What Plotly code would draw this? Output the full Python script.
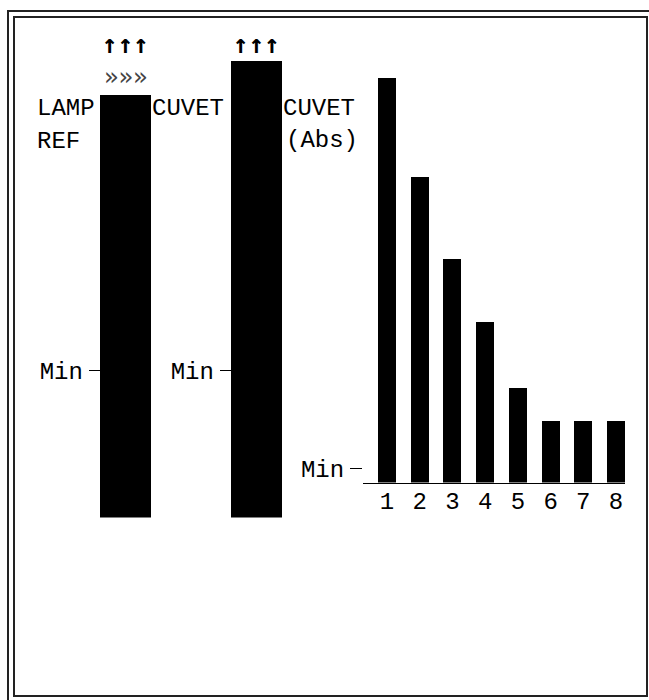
import plotly.graph_objects as go

# left panel: lamp reference and cuvet signal (percent of full scale)
ref_names = ["LAMP REF", "CUVET"]
ref_values = [92.6, 100.0]
ref_min = 32.1

# right panel: cuvet absorbance per channel (percent of channel 1)
channels = [1, 2, 3, 4, 5, 6, 7, 8]
abs_values = [100.0, 75.6, 55.4, 39.7, 23.4, 15.3, 15.3, 15.3]
abs_min = 3.4

W, H = 649, 700
FONT = "Liberation Mono, Courier New, monospace"
SYMFONT = "DejaVu Sans Mono, monospace"


def px(x):
    return x / W


def py(y):
    return 1 - y / H


fig = go.Figure()

fig.add_trace(go.Bar(x=[ref_names[0]], y=[ref_values[0]], width=0.382,
                     marker=dict(color="black", line=dict(width=0)),
                     xaxis="x", yaxis="y"))
fig.add_trace(go.Bar(x=[ref_names[1]], y=[ref_values[1]], width=0.382,
                     marker=dict(color="black", line=dict(width=0)),
                     xaxis="x", yaxis="y2"))
fig.add_trace(go.Bar(x=channels, y=abs_values, width=0.55,
                     marker=dict(color="black", line=dict(width=0)),
                     xaxis="x3", yaxis="y3"))

tickfont = dict(family=FONT, size=24, color="black")
min_axis = dict(range=[0, 100], showgrid=False, zeroline=False, showline=False,
                ticks="outside", ticklen=12, tickwidth=1, tickcolor="black",
                tickfont=tickfont, ticklabelstandoff=1)

fig.update_layout(
    width=W, height=H,
    margin=dict(l=0, r=0, t=0, b=0),
    paper_bgcolor="white", plot_bgcolor="rgba(0,0,0,0)",
    showlegend=False,
    bargap=0,
    xaxis=dict(domain=[px(60.2), px(322.2)], range=[-0.5, 1.5], type="category",
               showticklabels=False, showgrid=False, zeroline=False, showline=False,
               ticks="", anchor="y"),
    yaxis=dict(domain=[py(519), py(61)], anchor="free", position=px(100.7),
               tickvals=[ref_min], ticktext=["Min"], **min_axis),
    yaxis2=dict(overlaying="y", anchor="free", position=px(231.7),
                tickvals=[ref_min], ticktext=["Min"], **min_axis),
    xaxis3=dict(domain=[px(363), px(625)], range=[0.266, 8.275], anchor="y3",
                tickvals=channels, ticktext=[str(c) for c in channels],
                showgrid=False, zeroline=False, showline=True, linecolor="black",
                linewidth=1, ticks="", tickfont=tickfont, ticklabelstandoff=-3),
    yaxis3=dict(domain=[py(484), py(78)], anchor="x3",
                tickvals=[abs_min], ticktext=["Min"], **min_axis),
)

labels = [
    ("LAMP", 35, 108.5),
    ("REF", 35, 141.5),
    ("CUVET", 150, 108.5),
    ("CUVET", 281, 108.5),
    ("(Abs)", 284, 140.5),
]
for text, x, y in labels:
    fig.add_annotation(text=text, xref="paper", yref="paper", x=px(x), y=py(y),
                       xanchor="left", yanchor="middle", showarrow=False,
                       font=dict(family=FONT, size=24, color="black"))

for name in ref_names:
    fig.add_annotation(text="↑↑↑", xref="x", yref="paper", x=name, y=py(44),
                       xanchor="center", yanchor="middle", showarrow=False,
                       font=dict(family=SYMFONT, size=26, color="black",
                                 weight="bold"))
fig.add_annotation(text="»»»", xref="x", yref="paper", x=ref_names[0], y=py(77),
                   xanchor="center", yanchor="middle", showarrow=False,
                   font=dict(family=SYMFONT, size=24, color="#444"))

# double frame
fig.add_shape(type="rect", xref="paper", yref="paper",
              x0=px(8), y0=py(704), x1=px(654), y1=py(11),
              line=dict(color="#222", width=2))
fig.add_shape(type="rect", xref="paper", yref="paper",
              x0=px(14), y0=py(698), x1=px(647), y1=py(17),
              line=dict(color="#222", width=2))

fig.write_html("out.html", config={"displayModeBar": False},
               post_script="document.body.style.margin = '0';")
